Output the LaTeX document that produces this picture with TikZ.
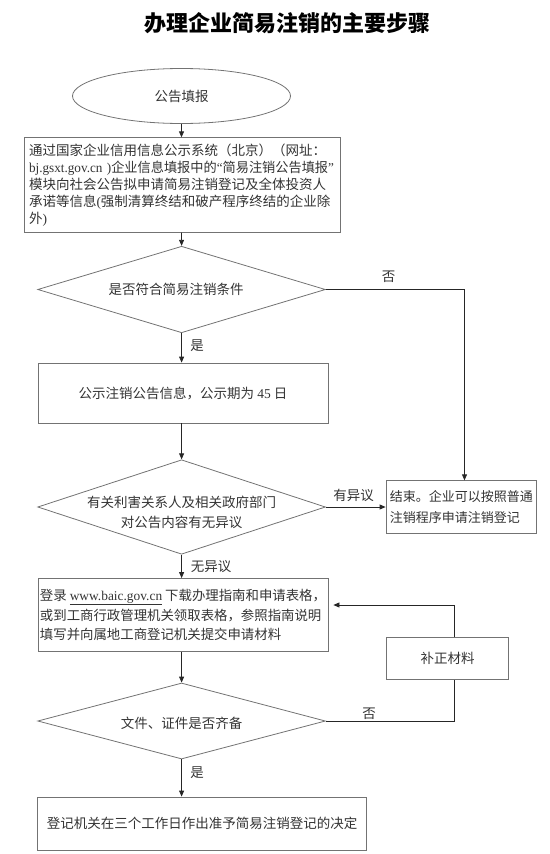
\documentclass[tikz,border=0pt]{standalone}
\usepackage{fontspec}
\setmainfont{Noto Sans CJK SC}
\newfontfamily\lat{Liberation Serif}
\usetikzlibrary{shapes.geometric,arrows.meta}
\newcommand\dtext[3]{\makebox[0pt]{\hspace*{#1}\raisebox{#2}[0pt][0pt]{\begin{tabular}{@{}c@{}}#3\end{tabular}}}}
\begin{document}
\begin{tikzpicture}[x=1pt,y=-1pt,
  txt/.style={font=\fontsize{13.5}{19.5}\selectfont, text=black!80},
  box/.style={draw=black!55, line width=0.8pt, rectangle, inner sep=0pt, txt},
  dia/.style={draw=black!55, line width=0.8pt, diamond, inner sep=0pt, txt},
  arr/.style={draw=black!85, line width=0.8pt, -{Triangle[length=6pt,width=5pt]}},
  ln/.style={draw=black!85, line width=0.8pt},
  lab/.style={txt, inner sep=0pt}]
\useasboundingbox (0,0) rectangle (549,854);

\node[font=\bfseries\fontsize{22}{22}\selectfont] (title) at (287,23) {办理企业简易注销的主要步骤};

\node[draw=black!55, line width=0.8pt, ellipse, minimum width=218pt, minimum height=55pt, inner sep=0pt, txt] (start) at (181.5,96) {公告填报};

\node[box, minimum width=316pt, minimum height=94.5pt, inner xsep=4.5pt, text width=307pt, align=left, font=\fontsize{13.5}{17.1}\selectfont] (b1) at (182.5,185) {通过国家企业信用信息公示系统（北京）（网址：\\
\resizebox{305pt}{\height}{{\lat bj.gsxt.gov.cn~)}企业信息填报中的{\lat “}简易注销公告填报{\lat ”}}\\
模块向社会公告拟申请简易注销登记及全体投资人\\
承诺等信息{\lat (}强制清算终结和破产程序终结的企业除\\
外{\lat )}};

\node[dia, minimum width=287.7pt, minimum height=86.5pt] (d1) at (181.6,289.5) {\dtext{-11pt}{-4.6pt}{是否符合简易注销条件}};

\node[box, minimum width=290pt, minimum height=60pt] (b2) at (183,393) {公示注销公告信息，公示期为 {\lat 45} 日};

\node[dia, minimum width=287.7pt, minimum height=94.5pt] (d2) at (181.6,507) {\dtext{0pt}{-10pt}{有关利害关系人及相关政府部门\\对公告内容有无异议}};

\node[box, minimum width=150.6pt, minimum height=52.5pt, align=left, font=\fontsize{13}{20.3}\selectfont] (end) at (461.3,507) {结束。企业可以按照普通\\注销程序申请注销登记};

\node[box, minimum width=290pt, minimum height=73pt, align=left, font=\fontsize{13.4}{19.7}\selectfont] (b3) at (183,615) {登录 {\lat\underline{www.baic.gov.cn}} 下载办理指南和申请表格，\\
或到工商行政管理机关领取表格，参照指南说明\\
填写并向属地工商登记机关提交申请材料};

\node[box, minimum width=121.8pt, minimum height=42pt] (fix) at (447.7,658.5) {补正材料};

\node[dia, minimum width=287.7pt, minimum height=76pt] (d3) at (181.6,721) {\dtext{0pt}{-7.6pt}{文件、证件是否齐备}};

\node[box, minimum width=328.7pt, minimum height=53pt] (b4) at (202,823.5) {登记机关在三个工作日作出准予简易注销登记的决定};

% labels
\node[lab] (l1) at (388.5,276.8) {否};
\node[lab] (l2) at (197,346) {是};
\node[lab] (l3) at (353.5,495.8) {有异议};
\node[lab] (l4) at (211,566.5) {无异议};
\node[lab] (l5) at (369,713.5) {否};
\node[lab] (l6) at (197,772.5) {是};

% connectors
\coordinate (c1x) at (464.5,0);
\coordinate (c2x) at (454,0);
\coordinate (fb) at (454,605);

\draw[arr] (start.south) -- (start.south |- b1.north);
\draw[arr] (start.south |- b1.south) -- (d1.north);
\draw[arr] (d1.south) -- (d1.south |- b2.north);
\draw[arr] (d2.north |- b2.south) -- (d2.north);
\draw[arr] (d2.south) -- (d2.south |- b3.north);
\draw[arr] (d3.north |- b3.south) -- (d3.north);
\draw[arr] (d3.south) -- (d3.south |- b4.north);

\draw[arr] (d1.east) -- (d1.east -| c1x) -- (c1x |- end.north);
\draw[arr] (d2.east) -- (end.west |- d2.east);
\draw[ln] (d3.east) -- (d3.east -| c2x) -- (c2x |- fix.south);
\draw[arr, shorten >=5pt] (c2x |- fix.north) -- (fb) -- (b3.east |- fb);
\end{tikzpicture}
\end{document}
